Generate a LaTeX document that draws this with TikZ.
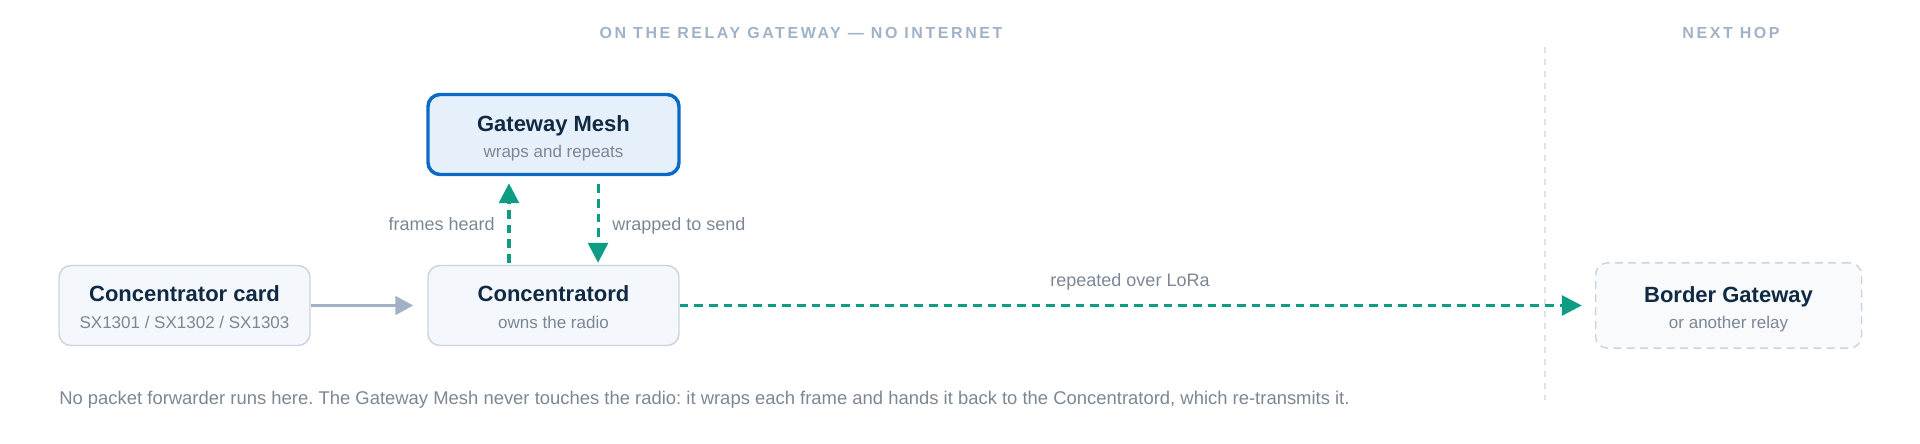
\documentclass[tikz,border=0pt]{standalone}
\usepackage{fontspec}
\setmainfont{Liberation Sans}
\newfontfamily\capsfont[LetterSpace=16]{Liberation Sans}
\usetikzlibrary{arrows.meta}
\definecolor{navy}{HTML}{102A43}
\definecolor{subc}{HTML}{7B8794}
\definecolor{hdrc}{HTML}{9FB3C8}
\definecolor{tealc}{HTML}{0E9C85}
\definecolor{grayarr}{HTML}{A3B1C6}
\definecolor{boxline}{HTML}{CBD5E1}
\definecolor{boxfill}{HTML}{F4F7FB}
\definecolor{meshline}{HTML}{0B69C7}
\definecolor{meshfill}{HTML}{E6F0FA}
\definecolor{nextfill}{HTML}{F8FAFC}
\definecolor{divc}{HTML}{DDE3EA}
\frenchspacing
\begin{document}
\begin{tikzpicture}[x=0.75pt,y=-0.75pt,
  card/.style={draw=boxline, fill=boxfill, rounded corners=9pt, line width=1.1pt,
    minimum width=188.25pt, minimum height=60pt, inner sep=0pt},
  meshbox/.style={card, draw=meshline, fill=meshfill, line width=2.6pt},
  nextbox/.style={card, fill=nextfill, dashed, dash pattern=on 6pt off 4pt,
    minimum width=199.5pt, minimum height=64pt},
  ttl/.style={anchor=base, inner sep=0pt, text=navy, font=\fontsize{16.5pt}{20pt}\selectfont\bfseries},
  sbt/.style={anchor=base, inner sep=0pt, text=subc, font=\fontsize{12.75pt}{15pt}\selectfont},
  lbl/.style={anchor=base, inner sep=0pt, text=subc, font=\fontsize{13.5pt}{16pt}\selectfont},
  hdr/.style={anchor=base, inner sep=0pt, text=hdrc, font=\fontsize{12pt}{14pt}\capsfont\bfseries},
  flow/.style={draw=tealc, line width=2.3pt, dash pattern=on 6.5pt off 4.5pt,
    -{Triangle[length=15pt,width=15pt]}},
  feed/.style={draw=grayarr, line width=2.3pt, -{Triangle[length=13.5pt,width=14pt]}},
  divider/.style={draw=divc, line width=1.5pt, dash pattern=on 4.5pt off 4.5pt}
]
\useasboundingbox (0,0) rectangle (1920,443);

% headers
\node[hdr] (h1) at (801,38) {ON THE RELAY GATEWAY — NO INTERNET};
\node[hdr] (h2) at (1731,38) {NEXT HOP};

% divider
\coordinate (dtop) at (1545,47);
\coordinate (dbot) at (1545,400);
\draw[divider] (dtop) -- (dbot);

% boxes
\node[card] (cardn) at (184.5,305.5) {};
\node[card] (concd) at (553.5,305.5) {};
\node[meshbox] (mesh) at (553.5,134.5) {};
\node[nextbox] (border) at (1728.5,305.5) {};

% titles
\node[ttl] (t1) at (184.5,301) {Concentrator card};
\node[sbt] (s1) at (184.5,328) {SX1301 / SX1302 / SX1303};
\node[ttl] (t2) at (553.5,301) {Concentratord};
\node[sbt] (s2) at (553.5,328) {owns the radio};
\node[ttl] (t3) at (553.5,131) {Gateway Mesh};
\node[sbt] (s3) at (553.5,157) {wraps and repeats};
\node[ttl] (t4) at (1728.5,302) {Border Gateway};
\node[sbt] (s4) at (1728.5,328) {or another relay};

% connectors
\draw[feed, shorten >=10.5pt] (cardn.east) -- (concd.west);
\draw[flow, shorten <=1.5pt, shorten >=5.25pt]
  ([xshift=-33.4pt]concd.north) -- ([xshift=-33.4pt]mesh.south);
\draw[flow, shorten <=6pt, shorten >=1.5pt]
  ([xshift=33.4pt]mesh.south) -- ([xshift=33.4pt]concd.north);
\draw[flow, shorten >=9.75pt] (concd.east) -- (border.west);

% labels
\node[lbl, anchor=base east] (l1) at (495,230) {frames heard};
\node[lbl, anchor=base west] (l2) at (612,230) {wrapped to send};
\node[lbl] (l3) at (1130,286) {repeated over LoRa};

% footer
\node[lbl, anchor=base west, font=\fontsize{13.83pt}{16pt}\selectfont] (foot) at (59,404) {No packet forwarder runs here. The Gateway Mesh never touches the radio: it wraps each frame and hands it back to the Concentratord, which re-transmits it.};
\end{tikzpicture}
\end{document}
